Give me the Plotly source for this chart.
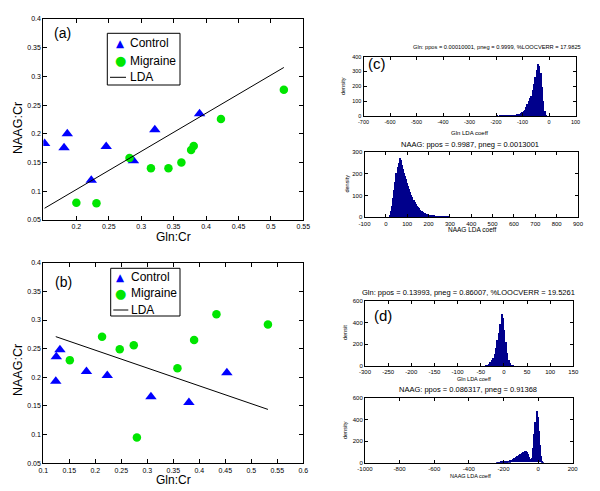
import plotly.graph_objects as go

# ---------------- data ----------------
a_control_x = [0.151, 0.181, 0.186, 0.223, 0.246, 0.288, 0.321, 0.390]
a_control_y = [0.183, 0.176, 0.200, 0.119, 0.178, 0.153, 0.207, 0.235]
a_migraine_x = [0.200, 0.231, 0.282, 0.315, 0.342, 0.362, 0.377, 0.381, 0.423, 0.520]
a_migraine_y = [0.080, 0.079, 0.158, 0.140, 0.140, 0.150, 0.172, 0.179, 0.226, 0.277]
a_lda_x = [0.151, 0.520]
a_lda_y = [0.0705, 0.3156]

b_control_x = [0.124, 0.125, 0.132, 0.183, 0.223, 0.307, 0.380, 0.453]
b_control_y = [0.193, 0.236, 0.248, 0.210, 0.203, 0.166, 0.156, 0.208]
b_migraine_x = [0.151, 0.213, 0.247, 0.274, 0.280, 0.358, 0.390, 0.433, 0.532]
b_migraine_y = [0.230, 0.271, 0.249, 0.256, 0.095, 0.216, 0.265, 0.310, 0.292]
b_lda_x = [0.124, 0.532]
b_lda_y = [0.271, 0.144]

legend_labels = ["Control", "Migraine", "LDA"]

scatter_xticks_a = [0.2, 0.25, 0.3, 0.35, 0.4, 0.45, 0.5, 0.55]
scatter_xticks_b = [0.1, 0.15, 0.2, 0.25, 0.3, 0.35, 0.4, 0.45, 0.5, 0.55, 0.6]
scatter_yticks = [0.05, 0.1, 0.15, 0.2, 0.25, 0.3, 0.35, 0.4]

# histogram (c) top : Gln LDA coeff (bin centres, width 5)
c1_x = [-227.5, -222.5, -217.5, -212.5, -207.5, -202.5, -197.5, -192.5, -187.5, -182.5,
        -177.5, -172.5, -167.5, -162.5, -157.5, -152.5, -147.5, -142.5, -137.5, -132.5,
        -127.5, -122.5, -117.5, -112.5, -107.5, -102.5, -97.5, -92.5, -87.5, -82.5,
        -77.5, -72.5, -67.5, -62.5, -57.5, -52.5, -47.5, -42.5, -37.5, -32.5,
        -27.5, -22.5, -17.5, -12.5, -7.5]
c1_y = [1, 1, 2, 1, 2, 2, 3, 2, 3, 4,
        3, 4, 5, 5, 6, 6, 7, 8, 8, 10,
        11, 13, 15, 18, 22, 27, 35, 45, 60, 80,
        105, 125, 140, 175, 220, 265, 310, 352, 340, 290,
        200, 100, 35, 8, 2]

# histogram (c) bottom : NAAG LDA coeff (bin centres, width 5)
c2_x = [12.5, 17.5, 22.5, 27.5, 32.5, 37.5, 42.5, 47.5, 52.5, 57.5,
        62.5, 67.5, 72.5, 77.5, 82.5, 87.5, 92.5, 97.5, 102.5, 107.5,
        112.5, 117.5, 122.5, 127.5, 132.5, 137.5, 142.5, 147.5, 152.5, 157.5,
        162.5, 167.5, 172.5, 177.5, 182.5, 187.5, 192.5, 197.5, 202.5, 207.5,
        212.5, 217.5, 222.5, 227.5, 232.5, 237.5, 242.5, 247.5, 252.5, 257.5,
        262.5, 267.5, 272.5, 277.5, 282.5, 287.5, 292.5, 297.5, 302.5, 307.5]
c2_y = [2, 10, 30, 55, 90, 125, 165, 205, 230, 250,
        274, 262, 240, 222, 205, 188, 175, 160, 145, 130,
        118, 105, 92, 80, 70, 62, 54, 47, 42, 37,
        32, 28, 25, 22, 20, 18, 16, 15, 14, 12,
        11, 10, 10, 9, 9, 8, 8, 7, 7, 6,
        5, 5, 4, 4, 3, 3, 2, 2, 1, 1]

# histogram (d) top : Gln LDA coeff (bin centres, width 3)
d1_x = [-43.5, -40.5, -37.5, -34.5, -31.5, -28.5, -25.5, -22.5, -19.5, -16.5,
        -13.5, -10.5, -7.5, -4.5, -1.5, 1.5, 4.5, 7.5, 10.5, 13.5,
        16.5, 19.5]
d1_y = [1, 2, 4, 8, 18, 35, 55, 80, 115, 170,
        240, 310, 390, 485, 440, 330, 220, 120, 60, 28,
        10, 3]

# histogram (d) bottom : NAAG LDA coeff (bin centres, width 6)
d2_x = [-237, -231, -225, -219, -213, -207, -201, -195, -189, -183,
        -177, -171, -165, -159, -153, -147, -141, -135, -129, -123,
        -117, -111, -105, -99, -93, -87, -81, -75, -69, -63,
        -57, -51, -45, -39, -33, -27, -21, -15, -9, -3,
        3, 9, 15, 21, 27]
d2_y = [1, 2, 2, 3, 4, 5, 6, 7, 8, 10,
        12, 15, 18, 22, 27, 32, 38, 44, 50, 56,
        62, 68, 74, 80, 87, 94, 100, 106, 110, 100,
        75, 50, 30, 22, 40, 130, 260, 380, 476, 420,
        290, 160, 60, 15, 3]

c1_xticks = [-700, -600, -500, -400, -300, -200, -100, 0, 100]
c1_yticks = [0, 100, 200, 300, 400]
c2_xticks = [-100, 0, 100, 200, 300, 400, 500, 600, 700, 800, 900]
c2_yticks = [0, 100, 200, 300]
d1_xticks = [-300, -250, -200, -150, -100, -50, 0, 50, 100, 150]
d1_yticks = [0, 200, 400, 600]
d2_xticks = [-1000, -800, -600, -400, -200, 0, 200]
d2_yticks = [0, 200, 400, 600]

title_c1 = "Gln: ppos = 0.00010001, pneg = 0.9999, %LOOCVERR = 17.9825"
title_c2 = "NAAG: ppos = 0.9987, pneg = 0.0013001"
title_d1 = "Gln: ppos = 0.13993, pneg = 0.86007, %LOOCVERR = 19.5261"
title_d2 = "NAAG: ppos = 0.086317, pneg = 0.91368"

# ---------------- layout helpers ----------------
W, H = 600, 491
FONT = "Arial, Liberation Sans, sans-serif"
HIST_COLOR = "#00008C"
BLUE = "#0000FF"
GREEN = "#00E600"


def fx(px):
    return px / W


def fy(py):
    return 1 - py / H


def tlabel(v):
    return "%g" % v


fig = go.Figure()

# ---- scatter (a) ----
fig.add_trace(go.Scatter(x=a_control_x, y=a_control_y, mode="markers", name="Control",
                         marker=dict(symbol="triangle-up", size=10, color=BLUE),
                         xaxis="x", yaxis="y", showlegend=False))
fig.add_trace(go.Scatter(x=a_migraine_x, y=a_migraine_y, mode="markers", name="Migraine",
                         marker=dict(symbol="circle", size=8.5, color=GREEN),
                         xaxis="x", yaxis="y", showlegend=False))
fig.add_trace(go.Scatter(x=a_lda_x, y=a_lda_y, mode="lines", name="LDA",
                         line=dict(color="black", width=1),
                         xaxis="x", yaxis="y", showlegend=False))

# ---- scatter (b) ----
fig.add_trace(go.Scatter(x=b_control_x, y=b_control_y, mode="markers", name="Control",
                         marker=dict(symbol="triangle-up", size=10, color=BLUE),
                         xaxis="x2", yaxis="y2", showlegend=False))
fig.add_trace(go.Scatter(x=b_migraine_x, y=b_migraine_y, mode="markers", name="Migraine",
                         marker=dict(symbol="circle", size=8.5, color=GREEN),
                         xaxis="x2", yaxis="y2", showlegend=False))
fig.add_trace(go.Scatter(x=b_lda_x, y=b_lda_y, mode="lines", name="LDA",
                         line=dict(color="black", width=1),
                         xaxis="x2", yaxis="y2", showlegend=False))

# ---- histograms ----
for xs, ys, w, xa, ya in [(c1_x, c1_y, 5, "x3", "y3"),
                          (c2_x, c2_y, 5, "x4", "y4"),
                          (d1_x, d1_y, 3, "x5", "y5"),
                          (d2_x, d2_y, 6, "x6", "y6")]:
    fig.add_trace(go.Bar(x=xs, y=ys, width=w, marker=dict(color=HIST_COLOR, line=dict(width=0)),
                         xaxis=xa, yaxis=ya, showlegend=False))

common = dict(showline=True, linecolor="black", linewidth=1, mirror="ticks",
              ticks="inside", tickcolor="black", showgrid=False, zeroline=False,
              automargin=False)


def axis(domain, rng, ticks, size, anchor, ticklen=4):
    d = dict(common)
    d.update(domain=domain, range=rng, tickvals=ticks,
             ticktext=[tlabel(t) for t in ticks], anchor=anchor, ticklen=ticklen)
    d["tickfont"] = dict(family=FONT, color="black", size=size)
    return d


fig.update_layout(
    width=W, height=H, autosize=False, margin=dict(l=0, r=0, t=0, b=0, pad=0, autoexpand=False),
    paper_bgcolor="white", plot_bgcolor="white", bargap=0, showlegend=False,
    font=dict(family=FONT, color="black"),
    xaxis=axis([fx(43.3), fx(303.3)], [0.149, 0.55], scatter_xticks_a, 7, "y"),
    yaxis=axis([fy(220), fy(19)], [0.05, 0.4], scatter_yticks, 7, "x"),
    xaxis2=axis([fx(43.3), fx(303.3)], [0.1, 0.6], scatter_xticks_b, 7, "y2"),
    yaxis2=axis([fy(463.3), fy(262.7)], [0.05, 0.4], scatter_yticks, 7, "x2"),
    xaxis3=axis([fx(363.5), fx(575.5)], [-700, 100], c1_xticks, 5.5, "y3", 3),
    yaxis3=axis([fy(116), fy(56.7)], [0, 400], c1_yticks, 5.5, "x3", 3),
    xaxis4=axis([fx(364.5), fx(578)], [-100, 900], c2_xticks, 6, "y4", 3),
    yaxis4=axis([fy(217.3), fy(151.7)], [0, 300], c2_yticks, 6, "x4", 3),
    xaxis5=axis([fx(365), fx(573.3)], [-300, 150], d1_xticks, 6, "y5", 3),
    yaxis5=axis([fy(366), fy(300.7)], [0, 600], d1_yticks, 6, "x5", 3),
    xaxis6=axis([fx(365), fx(572.7)], [-1000, 200], d2_xticks, 6, "y6", 3),
    yaxis6=axis([fy(462.7), fy(398.3)], [0, 600], d2_yticks, 6, "x6", 3),
)


def ann(text, px, py, size, angle=0, anchor="center", color="black", family=FONT):
    fig.add_annotation(text=text, x=fx(px), y=fy(py), xref="paper", yref="paper",
                       showarrow=False, xanchor=anchor, yanchor="middle",
                       textangle=angle, font=dict(family=family, size=size, color=color))


# ---- legend boxes (drawn as decoration) ----
def legend_box(x0, y0, x1, y1, rows, line_x0, line_x1, sym_x, text_x):
    fig.add_shape(type="rect", xref="paper", yref="paper",
                  x0=fx(x0), x1=fx(x1), y0=fy(y1), y1=fy(y0),
                  line=dict(color="black", width=1), fillcolor="white", layer="above")
    ann("\u25B2", sym_x, rows[0], 10.5, color=BLUE, family="DejaVu Sans")
    ann("\u25CF", sym_x, rows[1], 13, color=GREEN, family="DejaVu Sans")
    fig.add_shape(type="line", xref="paper", yref="paper",
                  x0=fx(line_x0), x1=fx(line_x1), y0=fy(rows[2]), y1=fy(rows[2]),
                  line=dict(color="black", width=1), layer="above")
    for lab, r in zip(legend_labels, rows):
        ann(lab, text_x, r, 12, anchor="left")


legend_box(107.3, 33.3, 180, 85, [43, 60.5, 77.3], 110, 126, 120.7, 128)
legend_box(110.7, 268.3, 180, 316, [276.7, 293.3, 310], 113.3, 128.3, 120.7, 129)

# panel letters
ann("(a)", 62, 33, 14)
ann("(b)", 63, 282, 14)
ann("(c)", 377, 64, 15)
ann("(d)", 383, 315, 15)

# scatter axis labels
ann("Gln:Cr", 173.3, 237.5, 12)
ann("NAAG:Cr", 18, 128, 12.5, -90)
ann("Gln:Cr", 173.3, 480, 12)
ann("NAAG:Cr", 18, 370, 12.5, -90)

# histogram titles
ann(title_c1, 497, 47, 5.7)
ann(title_c2, 470, 144, 7.5)
ann(title_d1, 468, 292.7, 7.5)
ann(title_d2, 468, 389.3, 7.5)

# histogram axis labels
ann("Gln LDA coeff", 469, 133, 6)
ann("NAAG LDA coeff", 472, 229.5, 6.5)
ann("Gln LDA coeff", 474, 378.5, 5.5)
ann("NAAG LDA coeff", 470, 476, 5.5)
ann("density", 343, 86, 5.5, -90)
ann("density", 346.5, 184, 5.5, -90)
ann("densit", 345, 333, 5.5, -90)
ann("density", 345, 430, 5.5, -90)

fig.write_html("out.html", config={"displayModeBar": False},
               post_script="document.body.style.margin='0';document.body.style.padding='0';")
